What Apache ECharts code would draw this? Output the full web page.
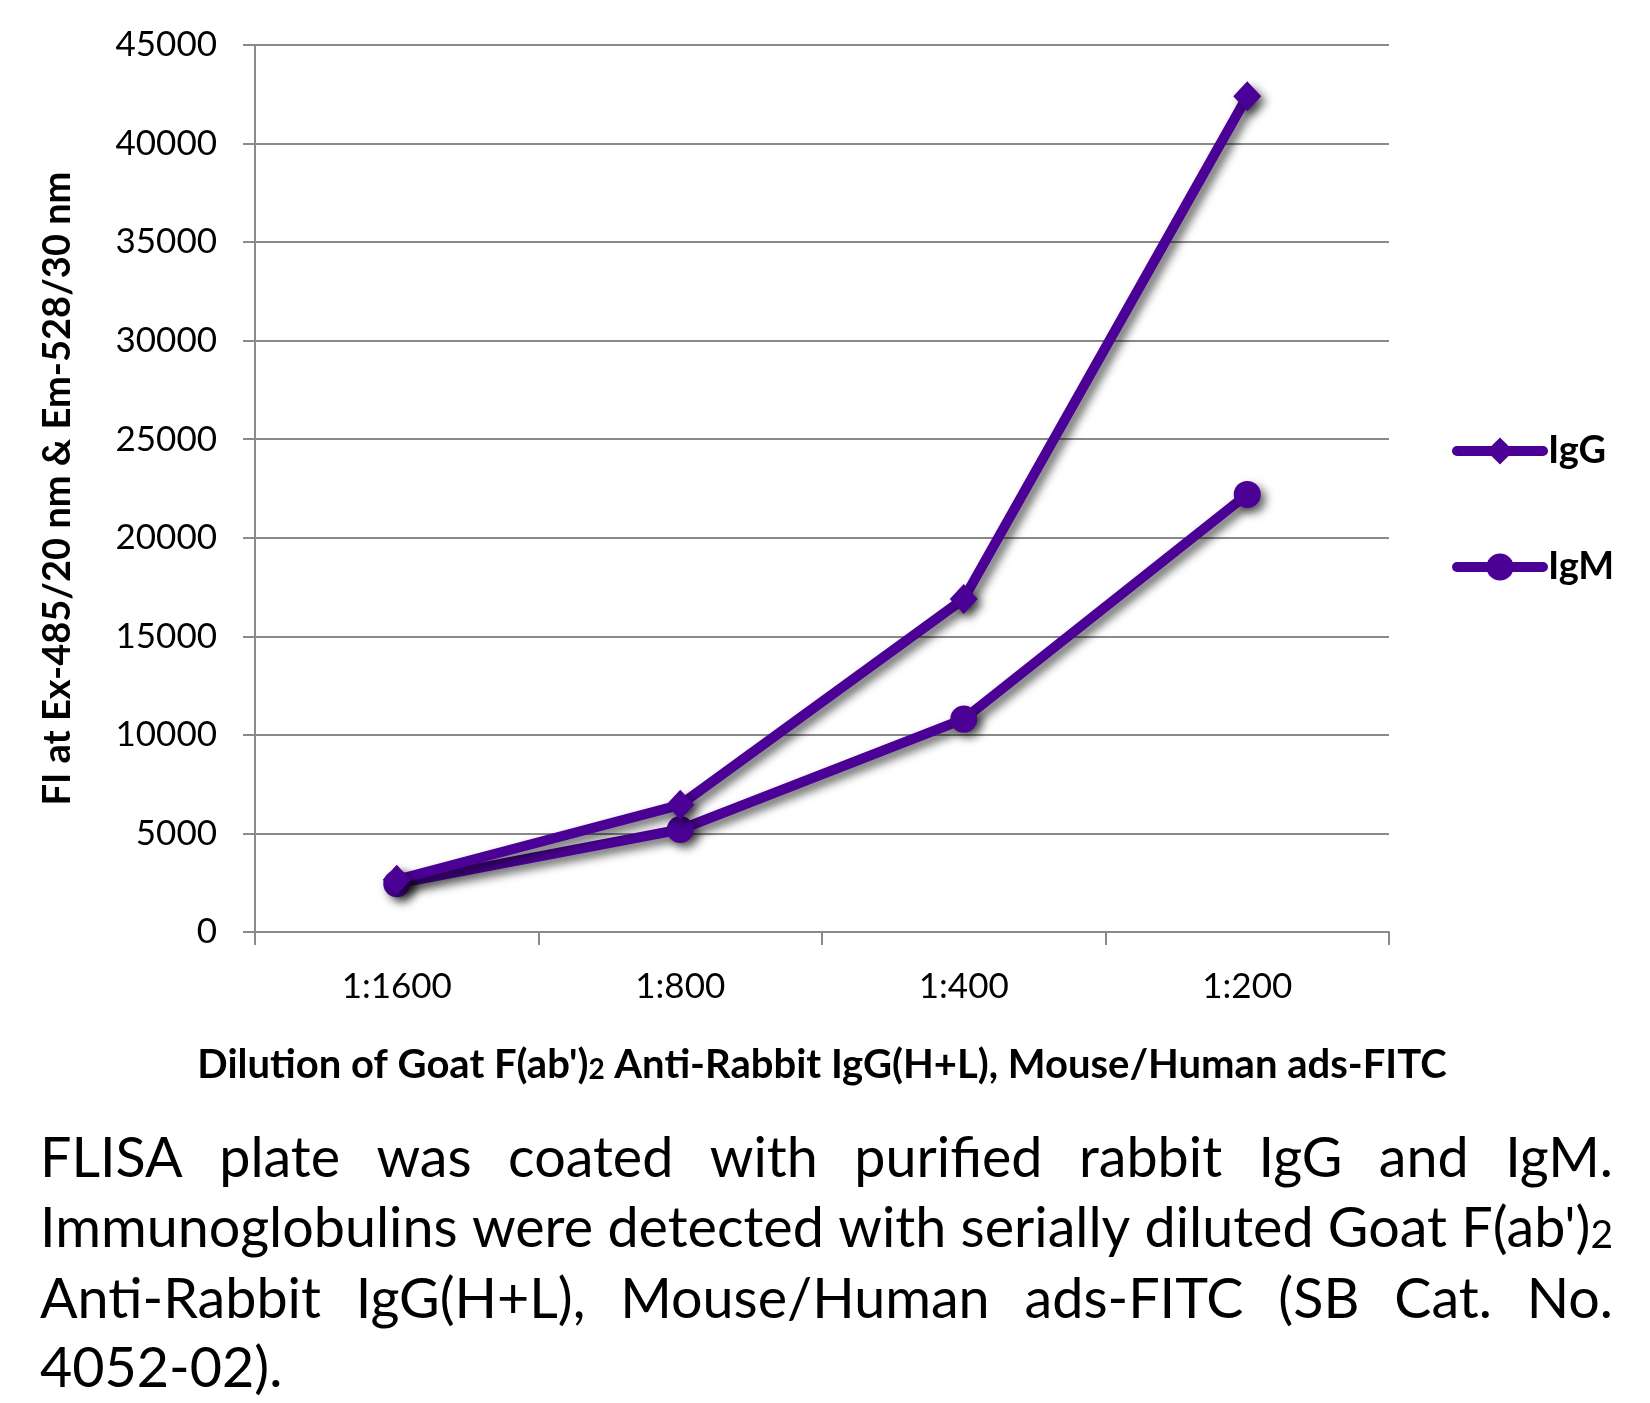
<!DOCTYPE html>
<html><head><meta charset="utf-8">
<script src="https://cdn.jsdelivr.net/npm/echarts@6/dist/echarts.min.js"></script>
<style>html,body{margin:0;padding:0;background:#fff}#c{width:1650px;height:1403px}</style>
</head><body><div id="c"></div>
<script>
// ---- data ----
const categories = ['1:1600', '1:800', '1:400', '1:200'];
const seriesNames = ['IgG', 'IgM'];
const igG = [2650, 6450, 16900, 42400];
const igM = [2450, 5200, 10800, 22200];
const yMin = 0, yMax = 45000, yInterval = 5000;
const yTitle = 'FI at Ex-485/20 nm & Em-528/30 nm';
const xTitleMain = "Dilution of Goat F(ab')";
const xTitleSub = '2';
const xTitleRest = ' Anti-Rabbit IgG(H+L), Mouse/Human ads-FITC';
// caption lines ("_" marks a small subscript part)
const captionLines = [
  'FLISA plate was coated with purified rabbit IgG and IgM.',
  "Immunoglobulins were detected with serially diluted Goat F(ab')_2",
  'Anti-Rabbit IgG(H+L), Mouse/Human ads-FITC (SB Cat. No.',
  '4052-02).'
];

const COLOR = '#4B0096';
const FONT = 'Lato';
const chart = echarts.init(document.getElementById('c'));

// caption layout (justified)
const ctx = document.createElement('canvas').getContext('2d');
function mw(t, size, weight) { ctx.font = (weight || 'normal') + ' ' + size + 'px ' + FONT; return ctx.measureText(t).width; }
const capLeft = 40, capRight = 1613, capWidth = capRight - capLeft;
const capY = [1159, 1229, 1300, 1369];
let capSize = 50;
function wordParts(w) { const i = w.indexOf('_'); return i < 0 ? [[w, false]] : [[w.slice(0, i), false], [w.slice(i + 1), true]]; }
function wordWidth(w, s) { return wordParts(w).reduce((a, p) => a + mw(p[0], p[1] ? s * 0.7 : s), 0); }
{
  const words = captionLines[1].split(' ');
  const natural = words.reduce((a, w) => a + wordWidth(w, capSize), 0) + mw(' ', capSize) * (words.length - 1);
  capSize = capSize * capWidth / natural;
}
const graphics = [];
captionLines.forEach((line, li) => {
  const words = line.split(' ');
  const widths = words.map(w => wordWidth(w, capSize));
  const total = widths.reduce((a, b) => a + b, 0);
  const last = li === captionLines.length - 1;
  const gap = last ? mw(' ', capSize) : (capWidth - total) / (words.length - 1);
  let x = capLeft;
  words.forEach((w, wi) => {
    const parts = wordParts(w);
    let text, rich;
    if (parts.length > 1) {
      text = '{a|' + parts[0][0] + '}{b|' + parts[1][0] + '}';
      rich = { a: { fontSize: capSize, fontFamily: FONT, fill: '#000', verticalAlign: 'bottom' },
               b: { fontSize: capSize * 0.7, fontFamily: FONT, fill: '#000', verticalAlign: 'bottom', padding: [0, 0, 2, 0] } };
    } else text = w;
    graphics.push({ type: 'text', silent: true,
      style: { text, rich, x, y: capY[li], fontSize: capSize, fontFamily: FONT, fill: '#000', align: 'left', verticalAlign: 'middle' } });
    x += widths[wi] + gap;
  });
});

const shadow = { shadowColor: 'rgba(0,0,0,0.6)', shadowBlur: 10, shadowOffsetX: 5, shadowOffsetY: 5 };
const noShadow = { shadowBlur: 0, shadowOffsetX: 0, shadowOffsetY: 0, shadowColor: 'rgba(0,0,0,0)' };

chart.setOption({
  animation: false,
  backgroundColor: '#fff',
  textStyle: { fontFamily: FONT },
  grid: { left: 255, right: 261, top: 45, bottom: 471, containLabel: false, outerBoundsMode: 'none' },
  legend: {
    data: seriesNames, orient: 'vertical', left: 1447, top: 424,
    itemWidth: 86, itemHeight: 34, itemGap: 72,
    textStyle: { fontSize: 38, fontWeight: 'bold', color: '#000', fontFamily: FONT, lineHeight: 44 },
    lineStyle: Object.assign({ width: 10, cap: 'round' }, noShadow),
    itemStyle: Object.assign({}, noShadow)
  },
  xAxis: {
    type: 'category', data: categories, boundaryGap: true,
    axisLine: { lineStyle: { color: '#8a8a8a', width: 2 } },
    axisTick: { show: true, length: 13, lineStyle: { color: '#8a8a8a', width: 2 } },
    axisLabel: { fontSize: 35, color: '#000', margin: 37, fontFamily: FONT },
    name: '{m|' + xTitleMain + '}{s|' + xTitleSub + '}{m|' + xTitleRest + '}',
    nameLocation: 'middle', nameGap: 113,
    nameTextStyle: { rich: {
      m: { fontSize: 40, fontWeight: 'bold', color: '#000', fontFamily: FONT, verticalAlign: 'bottom' },
      s: { fontSize: 28, fontWeight: 'bold', color: '#000', fontFamily: FONT, verticalAlign: 'bottom', padding: [0, 0, 1, 0] } } }
  },
  yAxis: {
    type: 'value', min: yMin, max: yMax, interval: yInterval,
    axisLine: { show: true, lineStyle: { color: '#8a8a8a', width: 2 } },
    axisTick: { show: true, length: 12, lineStyle: { color: '#8a8a8a', width: 2 } },
    splitLine: { show: true, lineStyle: { color: '#8a8a8a', width: 2 } },
    axisLabel: { fontSize: 35, color: '#000', margin: 38, fontFamily: FONT, formatter: v => String(v) },
    name: yTitle, nameLocation: 'middle', nameRotate: 90, nameGap: 178,
    nameTextStyle: { fontSize: 38, fontWeight: 'bold', color: '#000', fontFamily: FONT }
  },
  series: [
    { name: seriesNames[0], type: 'line', data: igG, symbol: 'diamond', symbolSize: [28, 30],
      lineStyle: Object.assign({ color: COLOR, width: 10 }, shadow),
      itemStyle: Object.assign({ color: COLOR }, shadow), z: 3 },
    { name: seriesNames[1], type: 'line', data: igM, symbol: 'circle', symbolSize: 27,
      lineStyle: Object.assign({ color: COLOR, width: 10 }, shadow),
      itemStyle: Object.assign({ color: COLOR }, shadow), z: 2 }
  ],
  graphic: graphics
});
</script>
</body></html>
